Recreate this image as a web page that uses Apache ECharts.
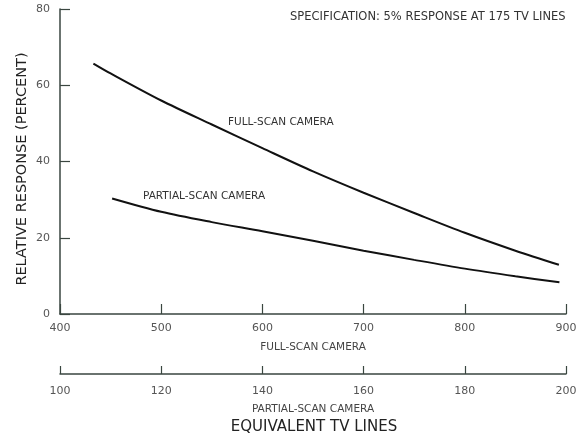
<!DOCTYPE html>
<html>
<head>
<meta charset="utf-8">
<script src="https://cdn.jsdelivr.net/npm/echarts@6/dist/echarts.min.js"></script>
<style>
html,body{margin:0;padding:0;background:#fff;}
#chart{width:585px;height:438px;}
</style>
</head>
<body>
<div id="chart"></div>
<script>
// Full-scan camera: x in full-scan TV lines
var fullScanX = [433, 450, 500, 550, 600, 650, 700, 750, 800, 850, 893];
var fullScanY = [65.7, 63.1, 56.0, 49.7, 43.5, 37.4, 31.8, 26.5, 21.3, 16.6, 12.9];
// Partial-scan camera: x in partial-scan TV lines
var partialScanX = [110.3, 120, 130, 140, 150, 160, 170, 180, 190, 198.7];
var partialScanY = [30.3, 26.8, 24.1, 21.7, 19.2, 16.6, 14.2, 11.9, 9.9, 8.3];
// Axis ranges / ticks
var fullAxis = {min: 400, max: 900, interval: 100};
var partialAxis = {min: 100, max: 200, interval: 20};
var yAxisRange = {min: 0, max: 80, interval: 20};

var axisColor = '#3a4640';
var labelColor = '#555';
var fontFam = '"DejaVu Sans", sans-serif';

function pairs(xs, ys) { return xs.map(function (x, i) { return [x, ys[i]]; }); }

var chart = echarts.init(document.getElementById('chart'));
chart.setOption({
  animation: false,
  backgroundColor: '#fff',
  grid: {left: 60, right: 19, top: 9, bottom: 124, containLabel: false},
  xAxis: [
    {
      type: 'value', position: 'bottom',
      min: fullAxis.min, max: fullAxis.max, interval: fullAxis.interval,
      axisLine: {show: true, lineStyle: {color: axisColor, width: 1.5}},
      axisTick: {show: true, inside: true, length: 10, lineStyle: {color: axisColor, width: 1.2}},
      splitLine: {show: false},
      axisLabel: {color: labelColor, fontSize: 11, fontFamily: fontFam, margin: 9},
      name: 'FULL-SCAN CAMERA', nameLocation: 'middle', nameGap: 28,
      nameTextStyle: {color: '#444', fontSize: 10.5, fontFamily: fontFam}
    },
    {
      type: 'value', position: 'bottom', offset: 60,
      min: partialAxis.min, max: partialAxis.max, interval: partialAxis.interval,
      axisLine: {show: true, lineStyle: {color: axisColor, width: 1.5}},
      axisTick: {show: true, inside: true, length: 8, lineStyle: {color: axisColor, width: 1.2}},
      splitLine: {show: false},
      axisLabel: {color: labelColor, fontSize: 11, fontFamily: fontFam, margin: 12},
      name: 'PARTIAL-SCAN CAMERA', nameLocation: 'middle', nameGap: 30,
      nameTextStyle: {color: '#444', fontSize: 10.5, fontFamily: fontFam}
    }
  ],
  yAxis: {
    type: 'value',
    min: yAxisRange.min, max: yAxisRange.max, interval: yAxisRange.interval,
    axisLine: {show: true, lineStyle: {color: axisColor, width: 1.5}},
    axisTick: {show: true, inside: true, length: 10, lineStyle: {color: axisColor, width: 1.2}},
    splitLine: {show: false},
    axisLabel: {color: labelColor, fontSize: 11, fontFamily: fontFam, margin: 10}
  },
  series: [
    {
      name: 'FULL-SCAN CAMERA', type: 'line', xAxisIndex: 0,
      data: pairs(fullScanX, fullScanY),
      smooth: 0.3, showSymbol: false,
      lineStyle: {color: '#111', width: 2}
    },
    {
      name: 'PARTIAL-SCAN CAMERA', type: 'line', xAxisIndex: 1,
      data: pairs(partialScanX, partialScanY),
      smooth: 0.3, showSymbol: false,
      lineStyle: {color: '#111', width: 2}
    }
  ],
  graphic: [
    {type: 'text', left: 290, top: 11,
     style: {text: 'SPECIFICATION: 5% RESPONSE AT 175 TV LINES', fill: '#333', font: '11.5px ' + fontFam}},
    {type: 'text', left: 228, top: 117,
     style: {text: 'FULL-SCAN CAMERA', fill: '#333', font: '10.5px ' + fontFam}},
    {type: 'text', left: 143, top: 191,
     style: {text: 'PARTIAL-SCAN CAMERA', fill: '#333', font: '10.5px ' + fontFam}},
    {type: 'text', x: 314, y: 427,
     style: {text: 'EQUIVALENT TV LINES', fill: '#222', font: '15px ' + fontFam, align: 'center', verticalAlign: 'middle'}},
    {type: 'text', x: 22, y: 169, rotation: Math.PI / 2,
     style: {text: 'RELATIVE RESPONSE (PERCENT)', fill: '#222', font: '14.5px ' + fontFam, align: 'center', verticalAlign: 'middle'}}
  ]
});
</script>
</body>
</html>
